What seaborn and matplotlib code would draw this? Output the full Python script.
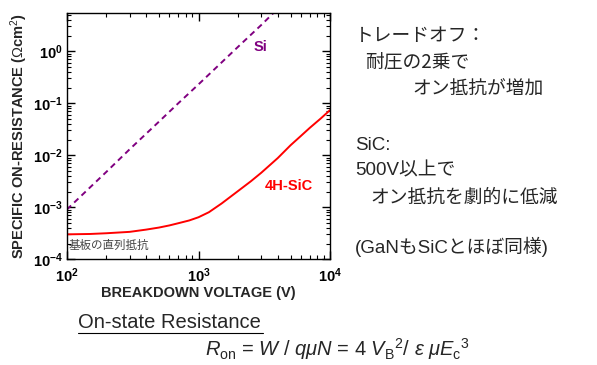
import numpy as np
import pandas as pd
import matplotlib
matplotlib.use("Agg")
import matplotlib.pyplot as plt
import seaborn as sns
from matplotlib.lines import Line2D

# values
si_voltage = [100, 150, 200, 300, 500, 700, 1000, 1500, 2000, 3000, 3700]
si_ron = [9.0e-4, 2.4e-3, 4.8e-3, 1.3e-2, 4.4e-2, 9.9e-2, 0.23, 0.61, 1.22, 3.2, 5.4]

sic_voltage = [100, 150, 200, 300, 400, 500, 600, 700, 850, 1000, 1200, 1500,
               2000, 2500, 3000, 4000, 5000, 6000, 7000, 8500, 10000]
sic_ron = [3.0e-4, 3.05e-4, 3.15e-4, 3.35e-4, 3.7e-4, 4.05e-4, 4.45e-4, 4.9e-4,
           5.55e-4, 6.4e-4, 8.0e-4, 1.18e-3, 2.05e-3, 3.15e-3, 4.6e-3, 8.8e-3,
           1.55e-2, 2.35e-2, 3.35e-2, 5.1e-2, 7.4e-2]

right_lines = ["トレードオフ：", "耐圧の2乗で", "オン抵抗が増加",
               "SiC:", "500V以上で", "オン抵抗を劇的に低減", "(GaNもSiCとほぼ同様)"]

df = pd.concat([
    pd.DataFrame({"V": si_voltage, "R": si_ron, "mat": "Si"}),
    pd.DataFrame({"V": sic_voltage, "R": sic_ron, "mat": "4H-SiC"}),
])

sns.set_theme(style="ticks")
plt.rcParams['font.family'] = ['Liberation Sans', 'Noto Sans CJK JP', 'DejaVu Sans']
plt.rcParams['mathtext.fontset'] = 'custom'
plt.rcParams['mathtext.rm'] = 'Liberation Sans'
plt.rcParams['mathtext.it'] = 'Liberation Sans:italic'

fig = plt.figure(figsize=(5.97, 3.65), dpi=100)
ax = fig.add_axes([0.112, 0.290, 0.441, 0.674])

sns.lineplot(data=df, x="V", y="R", hue="mat", style="mat",
             palette={"Si": "#800080", "4H-SiC": "#ff0000"},
             dashes={"Si": (3, 2.2), "4H-SiC": ""}, linewidth=1.4,
             legend=False, ax=ax, sort=True)

ax.set_xscale("log")
ax.set_yscale("log")
ax.set_xlim(100, 10000)
ax.set_ylim(1e-4, 5.4)
ax.tick_params(which="both", direction="in", top=True, right=True, colors="black")
ax.tick_params(which="major", length=6, width=1, labelsize=10.5, pad=3)
ax.tick_params(axis="x", which="major", pad=5)
ax.tick_params(which="minor", length=3, width=0.8)
for s in ax.spines.values():
    s.set_linewidth(1.0)
    s.set_color("black")
for lab in ax.get_xticklabels() + ax.get_yticklabels():
    lab.set_fontweight("bold")

ax.set_xlabel("BREAKDOWN VOLTAGE (V)", fontsize=10.5, fontweight="bold", labelpad=1)
ax.set_ylabel("SPECIFIC ON-RESISTANCE ($\\Omega$cm$^2$)", fontsize=10.5,
              fontweight="bold", labelpad=2)

ax.text(2600, 1.0, "Si", color="#800080", fontsize=10.5, fontweight="bold")
ax.text(3200, 2.1e-3, "4H-SiC", color="#ff0000", fontsize=10.5, fontweight="bold")
ax.text(103, 1.6e-4, "基板の直列抵抗", color="#444444", fontsize=8.3,
        family=['Noto Sans CJK JP', 'DejaVu Sans'])

jp = ['Noto Sans CJK JP', 'DejaVu Sans']
ys = [35, 62, 89, 146, 171, 197, 247]
xs = [355, 365, 412, 355, 355, 370, 355]
for t, x, y in zip(right_lines, xs, ys):
    fam = ['Liberation Sans', 'Noto Sans CJK JP'] if t[0] in "S5(" else jp
    fig.text(x / 597, 1 - y / 365, t, fontsize=13.5, va="center", ha="left", family=fam)

fig.text(78 / 597, 1 - 323 / 365, "On-state Resistance", fontsize=14.5, va="center")
fig.add_artist(Line2D([78 / 597, 263 / 597], [1 - 333 / 365] * 2, color="black", lw=0.8))
fig.text(205 / 597, 1 - 349 / 365,
         r"$R_{\rm on}$ = $W$ / $q\mu N$ = 4 $V_{\rm B}{}^{2}$/ $\varepsilon$ $\mu E_{\rm c}{}^{3}$",
         fontsize=14.5, va="center")

fig.savefig("out.png", dpi=100)
